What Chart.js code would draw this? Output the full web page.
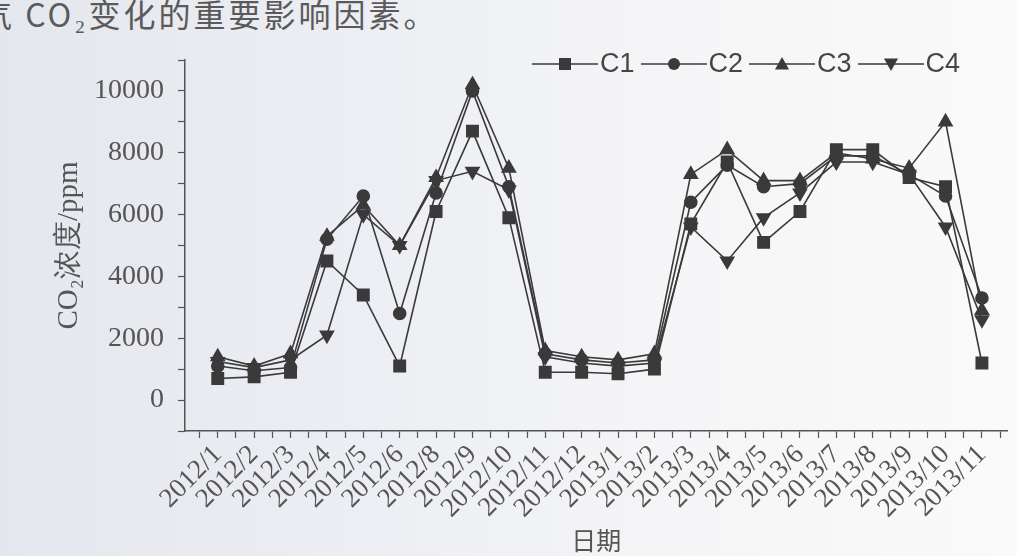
<!DOCTYPE html>
<html>
<head>
<meta charset="utf-8">
<script src="https://cdn.jsdelivr.net/npm/chart.js@4.4.1/dist/chart.umd.min.js"></script>
<style>
html, body { margin: 0; padding: 0; }
body {
    width: 1017px; height: 556px; overflow: hidden; position: relative;
    background: linear-gradient(90deg, #e5e7ee 0%, #eceef3 35%, #f5f5f7 65%, #fafafa 100%);
}
#wrap { position: absolute; left: 0; top: 0; width: 1017px; height: 556px; }
#note {
    position: absolute; left: -20px; top: -10px; white-space: nowrap;
    font: 32px "Noto Sans CJK SC"; color: #5a5a5a; letter-spacing: 3px;
}
#legend {
    position: absolute; left: 532px; top: 48px; display: flex; align-items: center;
    font: 27px "Liberation Sans"; color: #454545;
}
.item { display: flex; align-items: center; }
.item span { margin: 0 6px 0 2px; }
</style>
</head>
<body>
<div id="note">气 CO₂变化的重要影响因素。</div>
<div id="wrap"><canvas id="co2Chart" width="1017" height="556"></canvas></div>
<div id="legend"></div>

<script>
/* ======================
   DATA
====================== */
const dates = ["2012/1", "2012/2", "2012/3", "2012/4", "2012/5", "2012/6", "2012/8", "2012/9",
    "2012/10", "2012/11", "2012/12", "2013/1", "2013/2", "2013/3", "2013/4", "2013/5",
    "2013/6", "2013/7", "2013/8", "2013/9", "2013/10", "2013/11"];

const seriesNames = ["C1", "C2", "C3", "C4"];

const c1 = [700, 750, 900, 4500, 3400, 1100, 6100, 8700, 5900, 900, 900, 850,
    1000, 5700, 7700, 5100, 6100, 8100, 8100, 7200, 6900, 1200];
const c2 = [1100, 950, 1050, 5200, 6600, 2800, 6700, 10000, 6900, 1500, 1300, 1200,
    1300, 6400, 7600, 6900, 7000, 7900, 7900, 7300, 6600, 3300];
const c3 = [1400, 1100, 1500, 5300, 6300, 5000, 7200, 10200, 7500, 1600, 1400, 1300,
    1500, 7300, 8100, 7100, 7100, 8000, 7800, 7500, 9000, 2900];
const c4 = [1250, 1050, 1300, 2100, 6000, 5000, 7100, 7400, 6800, 1400, 1200, 1100,
    1200, 5600, 4500, 5900, 6700, 7700, 7700, 7300, 5600, 2600];

const yLabels = [0, 2000, 4000, 6000, 8000, 10000];

/* ======================
   STYLE
====================== */
const ink = "#3a3a3a";
const axisInk = "#555";
const markers = [
    { style: "rect", radius: 8, rotation: 0 },
    { style: "circle", radius: 6, rotation: 0 },
    { style: "triangle", radius: 7.5, rotation: 0 },
    { style: "triangle", radius: 7.5, rotation: 180 }
];

const allSeries = [c1, c2, c3, c4];

const datasets = allSeries.map((values, k) => ({
    label: seriesNames[k],
    data: values.map((v, i) => ({ x: i, y: v })),
    borderColor: ink,
    backgroundColor: ink,
    borderWidth: 1.6,
    pointStyle: markers[k].style,
    pointRadius: markers[k].radius,
    pointRotation: markers[k].rotation,
    pointBackgroundColor: ink,
    pointBorderColor: ink,
    tension: 0,
    clip: false
}));

/* ======================
   LEGEND (HTML)
====================== */
function symbolSvg(k) {
    const cx = 33, cy = 13;
    let m = "";
    if (k === 0) m = `<rect x="${cx - 6}" y="${cy - 6}" width="12" height="12" fill="${ink}"/>`;
    if (k === 1) m = `<circle cx="${cx}" cy="${cy}" r="6" fill="${ink}"/>`;
    if (k === 2) m = `<polygon points="${cx},${cy - 7} ${cx + 7},${cy + 5.5} ${cx - 7},${cy + 5.5}" fill="${ink}"/>`;
    if (k === 3) m = `<polygon points="${cx},${cy + 7} ${cx + 7},${cy - 5.5} ${cx - 7},${cy - 5.5}" fill="${ink}"/>`;
    return `<svg width="66" height="26"><line x1="0" y1="${cy}" x2="66" y2="${cy}" stroke="${ink}" stroke-width="1.7"/>${m}</svg>`;
}

const legendBox = document.getElementById("legend");
seriesNames.forEach((name, k) => {
    const item = document.createElement("div");
    item.className = "item";
    item.innerHTML = symbolSvg(k) + `<span>${name}</span>`;
    legendBox.appendChild(item);
});

/* ======================
   CHART
====================== */
new Chart(document.getElementById("co2Chart"), {
    type: "line",
    data: { datasets: datasets },
    options: {
        responsive: false,
        animation: false,
        layout: { padding: { top: 60, right: 0, left: 0, bottom: 0 } },
        plugins: {
            legend: { display: false },
            tooltip: { enabled: false }
        },
        scales: {
            x: {
                type: "linear",
                min: -0.9,
                max: 21.7,
                afterFit: s => { s.height = 125; s.paddingRight = 0; s.paddingLeft = 0; },
                ticks: {
                    stepSize: 0.5,
                    autoSkip: false,
                    includeBounds: false,
                    minRotation: 45,
                    maxRotation: 45,
                    padding: 1,
                    color: axisInk,
                    font: { family: "Liberation Serif", size: 27 },
                    callback: v => (Number.isInteger(v) && dates[v]) ? dates[v] : ""
                },
                grid: { drawOnChartArea: false, tickLength: 7, color: axisInk, tickWidth: 1.2 },
                border: { color: axisInk, width: 1.5 },
                title: {
                    display: true,
                    text: "日期",
                    color: axisInk,
                    font: { family: "Noto Sans CJK SC", size: 25 },
                    padding: { top: 0, bottom: 1 }
                }
            },
            y: {
                min: -1000,
                max: 11000,
                afterFit: s => { s.width = 185; },
                ticks: {
                    stepSize: 1000,
                    autoSkip: false,
                    padding: 14,
                    color: axisInk,
                    font: { family: "Liberation Serif", size: 28 },
                    callback: v => yLabels.includes(v) ? v : ""
                },
                grid: { drawOnChartArea: false, tickLength: 7, color: axisInk, tickWidth: 1.2 },
                border: { color: axisInk, width: 1.5 },
                title: {
                    display: true,
                    text: "CO₂浓度/ppm",
                    color: axisInk,
                    font: { family: "Liberation Serif", size: 29 },
                    padding: { top: 52, bottom: 0 }
                }
            }
        }
    }
});
</script>
</body>
</html>
